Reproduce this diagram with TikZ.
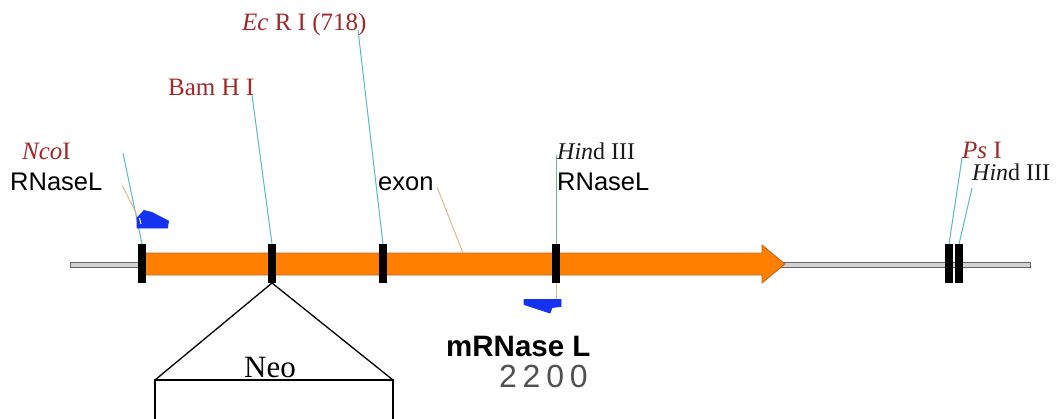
\documentclass[tikz,border=0pt]{standalone}
\usepackage{fontspec}
\setmainfont{Liberation Serif}
\setsansfont{Liberation Sans}
\definecolor{enzred}{RGB}{160,40,40}
\definecolor{tealc}{RGB}{90,185,190}
\definecolor{tanc}{RGB}{225,185,140}
\definecolor{greenc}{RGB}{110,190,130}
\definecolor{primer}{RGB}{20,50,240}
\definecolor{orangec}{RGB}{255,128,0}
\definecolor{orangeb}{RGB}{190,100,30}
\definecolor{numgray}{RGB}{80,80,80}
\tikzset{
  bar/.style={fill=black, draw=none, minimum width=8.5pt, minimum height=39pt, inner sep=0pt, outer sep=0pt},
  enz/.style={text=enzred, font=\rmfamily\fontsize{25}{25}\selectfont, inner sep=0pt, anchor=base west},
  enzb/.style={text=black!90, font=\rmfamily\fontsize{24}{24}\selectfont, inner sep=0pt, anchor=base west},
  lab/.style={text=black, font=\sffamily\fontsize{25.5}{25.5}\selectfont, inner sep=0pt, anchor=base west},
  tealline/.style={draw=tealc, line width=1pt},
  tanline/.style={draw=tanc, line width=1pt},
  greenline/.style={draw=greenc, line width=1pt},
  primerfill/.style={fill=primer, draw=primer, line width=0.8pt, line join=round},
}
\begin{document}
\begin{tikzpicture}[x=1pt,y=-1pt]
\useasboundingbox (0,0) rectangle (1057,418);
% backbone
\fill[gray!35, draw=gray!80!black, line width=0.8pt] (70,262) rectangle (1030,267);
% orange arrow
\filldraw[fill=orangec, draw=orangeb, line width=0.8pt, line join=miter]
  (143,253) -- (762,253) -- (762,245) -- (785,264) -- (762,283) -- (762,275) -- (143,275) -- cycle;
% bars
\node[bar] (b1) at (142,263.5) {};
\node[bar] (b2) at (272,263.5) {};
\node[bar] (b3) at (383,263.5) {};
\node[bar] (b4) at (556,263.5) {};
\node[bar] (b5) at (949,263.5) {};
\node[bar] (b6) at (959,263.5) {};
% labels
\node[enz] (nco) at (22,159) {\textit{Nco}I};
\node[lab] (rl1) at (10,190) {RNaseL};
\node[enz] (bam) at (168,95) {Bam H I};
\node[enz] (eco) at (242,30) {\textit{Ec} R I (718)};
\node[lab] (exon) at (378,190) {exon};
\node[enzb] (hind1) at (557,159) {\textit{Hin}d III};
\node[lab] (rl2) at (557,190) {RNaseL};
\node[enz] (pst) at (962,158) {\textit{Ps} I};
\node[enzb] (hind2) at (972,180) {\textit{Hin}d III};
\node[text=black, font=\sffamily\bfseries\fontsize{29.5}{29.5}\selectfont, inner sep=0pt, anchor=base west] (mrn) at (446,356) {mRNase L};
\node[text=numgray, font=\sffamily\fontsize{32}{32}\selectfont\addfontfeature{LetterSpace=18}, inner sep=0pt, anchor=base west] (num) at (499,387) {2200};
% connector free ends
\coordinate (ncoEnd) at (123,153);
\coordinate (bamEnd) at (252,95);
\coordinate (ecoEnd) at (358,30);
\coordinate (exonEnd) at (437,187);
\coordinate (exonTip) at (463,253);
\coordinate (hindEnd) at (556,155);
\coordinate (pstEnd) at (962,158);
\coordinate (hind2End) at (972,188);
\coordinate (rlEnd) at (122,185);
\coordinate (rlTip) at (138,217);
\coordinate (p2top) at (556,299);
% connectors
\draw[tealline] (ncoEnd) -- (b1.north);
\draw[tanline] (rlEnd) -- (rlTip);
\draw[tealline] (bamEnd) -- (b2.north);
\draw[tealline] (ecoEnd) -- (b3.north);
\draw[tanline] (exonEnd) -- (exonTip);
\draw[greenline] (hindEnd) -- (b4.north);
\draw[tealline] (pstEnd) -- (b5.north);
\draw[tealline] (hind2End) -- (b6.north);
\draw[tanline] (b4.south) -- (p2top);
% primers
\filldraw[primerfill] (137,218) -- (144,210.5) -- (152,212.5) -- (168.5,221) -- (167.5,228) -- (137,228) -- cycle;
\draw[white, line width=1pt] (139.5,218) -- (141,224);
\filldraw[primerfill] (524,299.5) -- (561,299.5) -- (561,306.5) -- (552,307.5) -- (550,313) -- (524,304.5) -- cycle;
% Neo insert
\coordinate (neoL) at (155,380);
\coordinate (neoR) at (393,380);
\draw[black, line width=1.3pt] (b2.south) -- (neoL);
\draw[black, line width=1.3pt] (b2.south) -- (neoR);
\draw[black, line width=1.3pt] (155,425) -- (neoL) -- (neoR) -- (393,425);
\node[text=black, font=\rmfamily\fontsize{31}{31}\selectfont, inner sep=0pt, anchor=base] (neo) at (270,377) {Neo};
\end{tikzpicture}
\end{document}
